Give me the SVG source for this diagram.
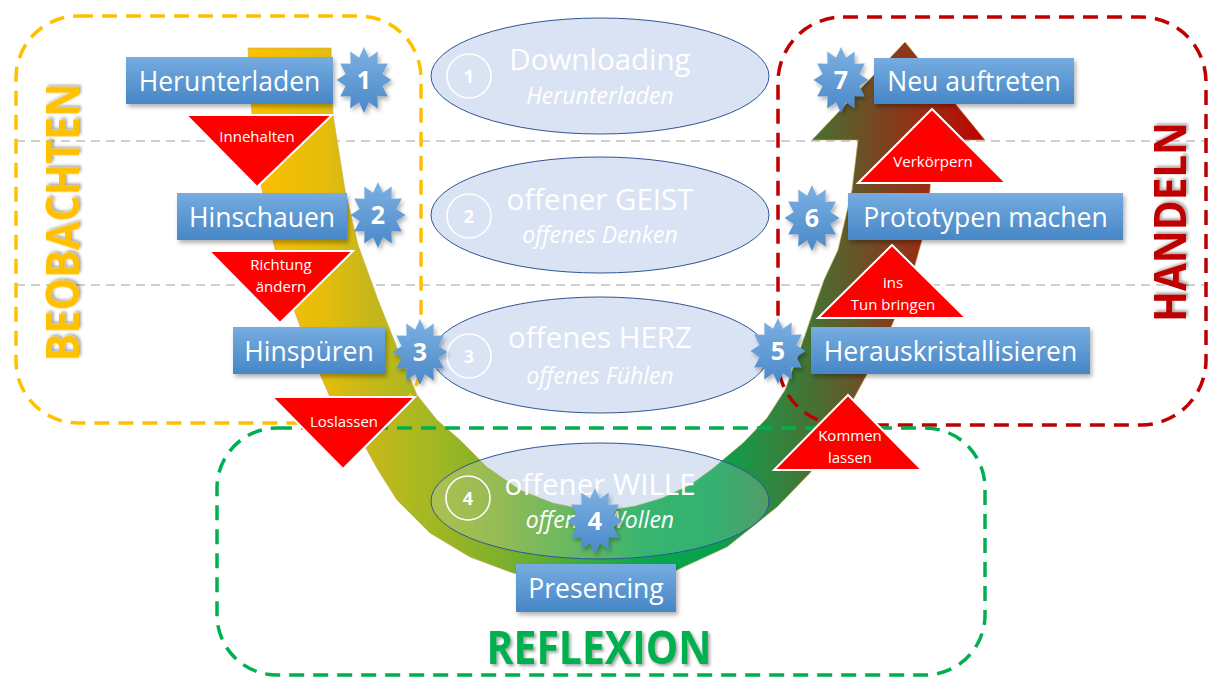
<svg xmlns="http://www.w3.org/2000/svg" xmlns:xlink="http://www.w3.org/1999/xlink" width="1208" height="677" viewBox="0 0 1208 677">
<style>
.grid{stroke:#cfcfcf;stroke-width:2;stroke-dasharray:9 6;fill:none}
.frame{fill:none;stroke-width:3.5;stroke-dasharray:15 9}
.ell{fill:#dae3f3;stroke:#2f5597;stroke-width:1}
.etitle{font-family:"Open Sans","Liberation Sans",sans-serif;font-size:29.5px;fill:#ffffff;text-anchor:middle}
.esub{font-family:"Open Sans","Liberation Sans",sans-serif;font-size:23px;font-style:italic;fill:#ffffff;text-anchor:middle}
.ecirc{fill:none;stroke:#ffffff;stroke-width:1.6}
.enum{font-family:"Open Sans","Liberation Sans",sans-serif;font-size:18px;font-weight:bold;fill:#ffffff;text-anchor:middle}
.tri{fill:#ff0000;stroke:#ffffff;stroke-width:2;stroke-linejoin:miter}
.tlab{font-family:"Open Sans","Liberation Sans",sans-serif;font-size:15px;fill:#ffffff;text-anchor:middle}
.box{fill:url(#boxGrad);filter:url(#sh)}
.blab{font-family:"Open Sans","Liberation Sans",sans-serif;font-size:26.5px;fill:#ffffff;text-anchor:middle}
.snum{font-family:"Open Sans","Liberation Sans",sans-serif;font-size:25px;font-weight:bold;fill:#ffffff;text-anchor:middle}
.big{font-family:"Open Sans","Liberation Sans",sans-serif;font-weight:bold;text-anchor:middle;filter:url(#tsh)}
</style>
<defs>
<linearGradient id="boxGrad" x1="0" y1="0" x2="0" y2="1">
<stop offset="0" stop-color="#76ace0"/>
<stop offset="1" stop-color="#4686c6"/>
</linearGradient>
<linearGradient id="starGrad" x1="0" y1="0" x2="0" y2="1">
<stop offset="0" stop-color="#7cb1e2"/>
<stop offset="1" stop-color="#4a88c9"/>
</linearGradient>
<linearGradient id="bandGrad" gradientUnits="userSpaceOnUse" x1="248" y1="0" x2="985" y2="0">
<stop offset="0" stop-color="#ffc000"/>
<stop offset="0.1" stop-color="#e6bd0a"/>
<stop offset="0.16" stop-color="#c8b818"/>
<stop offset="0.24" stop-color="#a6b822"/>
<stop offset="0.34" stop-color="#80b02a"/>
<stop offset="0.44" stop-color="#48ac3a"/>
<stop offset="0.54" stop-color="#0aa84c"/>
<stop offset="0.63" stop-color="#06a24e"/>
<stop offset="0.71" stop-color="#2e8840"/>
<stop offset="0.78" stop-color="#4e6a30"/>
<stop offset="0.86" stop-color="#7a4420"/>
<stop offset="0.93" stop-color="#a02810"/>
<stop offset="1" stop-color="#c00000"/>
</linearGradient>
<filter id="sh" x="-10%" y="-10%" width="130%" height="150%">
<feDropShadow dx="2" dy="3" stdDeviation="2" flood-color="#000" flood-opacity="0.3"/>
</filter>
<filter id="tsh" x="-10%" y="-10%" width="130%" height="130%">
<feDropShadow dx="2" dy="2" stdDeviation="1.5" flood-color="#000" flood-opacity="0.35"/>
</filter>
<polygon id="star" fill="url(#starGrad)" filter="url(#sh)" points="0,-33 4.92,-22.22 13.75,-28.58 13.44,-16.26 23.82,-16.5 18.35,-5.95 27.5,0 18.35,5.95 23.82,16.5 13.44,16.26 13.75,28.58 4.92,22.22 0,33 -4.92,22.22 -13.75,28.58 -13.44,16.26 -23.82,16.5 -18.35,5.95 -27.5,0 -18.35,-5.95 -23.82,-16.5 -13.44,-16.26 -13.75,-28.58 -4.92,-22.22"/>
</defs>

<rect width="1208" height="677" fill="#ffffff"/>

<g id="grid-lines">
<line class="grid" x1="16" y1="141" x2="1208" y2="141"/>
<line class="grid" x1="16" y1="285" x2="1208" y2="285"/>
</g>

<g id="ellipse-1">
<ellipse class="ell" cx="600" cy="76" rx="169" ry="58"/>
<circle class="ecirc" cx="469" cy="76" r="22"/>
<text class="enum" x="469" y="82.5">1</text>
<text class="etitle" x="600" y="70">Downloading</text>
<text class="esub" x="600" y="104">Herunterladen</text>
</g>
<g id="ellipse-2">
<ellipse class="ell" cx="600" cy="215" rx="169" ry="58"/>
<circle class="ecirc" cx="469" cy="216" r="22"/>
<text class="enum" x="469" y="222.5">2</text>
<text class="etitle" x="600" y="210">offener GEIST</text>
<text class="esub" x="600" y="243">offenes Denken</text>
</g>
<g id="ellipse-3">
<ellipse class="ell" cx="600" cy="355" rx="168" ry="58"/>
<circle class="ecirc" cx="469" cy="356" r="22"/>
<text class="enum" x="469" y="362.5">3</text>
<text class="etitle" x="600" y="348">offenes HERZ</text>
<text class="esub" x="600" y="384">offenes Fühlen</text>
</g>
<g id="ellipse-4-fill">
<ellipse cx="600" cy="501" rx="169" ry="58" fill="#dae3f3"/>
</g>

<g id="connectors">
<path id="u-arrow" fill="url(#bandGrad)" stroke="#c8a850" stroke-opacity="0.6" stroke-width="1" stroke-linejoin="round" d="M248,48 L331,48 L333,115 L345,190 L358,245 L378,300 L398,350 L417,395 L437,420 L460,440 L487,467 L520,490 L553,503 L587,510 L610,510 L635,506 L662,498 L690,485 L712,469 L743,443 L767,418 L785,390 L800,350 L817,300 L824,280 L838,250 L852,190 L858,140 L812,140 L905,42 L985,140 L933,140 L930,190 L922,240 L910,283 L892,325 L872,365 L853,400 L837,433 L810,473 L777,507 L727,547 L677,570 L636,580 L596,583 L556,581 L513,573 L470,557 L430,533 L397,500 L378,470 L367,450 L350,425 L330,397 L305,340 L287,290 L274,245 L261,185 L252,115 Z"/>
</g>

<g id="ellipse-4">
<ellipse cx="600" cy="501" rx="169" ry="58" fill="#dae3f3" fill-opacity="0.22" stroke="#2f5597" stroke-width="1"/>
<circle class="ecirc" cx="468" cy="498" r="22"/>
<text class="enum" x="468" y="504.5">4</text>
<text class="etitle" x="600" y="495">offener WILLE</text>
<text class="esub" x="600" y="528">offenes Wollen</text>
</g>

<g id="frame-beobachten">
<rect class="frame" x="16" y="16" width="405" height="407" rx="62" stroke="#ffc000"/>
</g>
<g id="frame-handeln">
<rect class="frame" x="778" y="17" width="428" height="408" rx="65" stroke="#c00000"/>
</g>
<g id="frame-reflexion">
<rect class="frame" x="217" y="428" width="768" height="247" rx="60" stroke="#00b050"/>
</g>

<g id="tri-innehalten">
<polygon class="tri" points="186,115 332,115 257,187"/>
<text class="tlab" x="257" y="142">Innehalten</text>
</g>
<g id="tri-richtung">
<polygon class="tri" points="209,251 353,251 280,323"/>
<text class="tlab" x="281" y="270">Richtung</text>
<text class="tlab" x="281" y="292">ändern</text>
</g>
<g id="tri-loslassen">
<polygon class="tri" points="272,397 415,397 343,469"/>
<text class="tlab" x="344" y="427">Loslassen</text>
</g>
<g id="tri-kommen">
<polygon class="tri" points="774,470 922,470 848,395"/>
<text class="tlab" x="850" y="441">Kommen</text>
<text class="tlab" x="850" y="463">lassen</text>
</g>
<g id="tri-tun">
<polygon class="tri" points="818,318 966,318 892,245"/>
<text class="tlab" x="893" y="288">ins</text>
<text class="tlab" x="893" y="310">Tun bringen</text>
</g>
<g id="tri-verkoerpern">
<polygon class="tri" points="858,183 1006,183 932,109"/>
<text class="tlab" x="933" y="167">Verkörpern</text>
</g>

<g id="box-herunterladen">
<rect class="box" x="126" y="57" width="207" height="47"/>
<text class="blab" x="229.5" y="91">Herunterladen</text>
</g>
<g id="box-hinschauen">
<rect class="box" x="177" y="193" width="170" height="47"/>
<text class="blab" x="262" y="227">Hinschauen</text>
</g>
<g id="box-hinspueren">
<rect class="box" x="233" y="327" width="152" height="47"/>
<text class="blab" x="309" y="361">Hinspüren</text>
</g>
<g id="box-presencing">
<rect class="box" x="516" y="564" width="160" height="48"/>
<text class="blab" x="596" y="598">Presencing</text>
</g>
<g id="box-herauskristallisieren">
<rect class="box" x="811" y="327" width="279" height="47"/>
<text class="blab" x="950.5" y="361">Herauskristallisieren</text>
</g>
<g id="box-prototypen">
<rect class="box" x="848" y="193" width="275" height="47"/>
<text class="blab" x="985.5" y="227">Prototypen machen</text>
</g>
<g id="box-neu">
<rect class="box" x="874" y="58" width="200" height="46"/>
<text class="blab" x="974" y="91">Neu auftreten</text>
</g>

<g id="star-1"><use xlink:href="#star" x="364" y="80"/><text class="snum" x="364" y="89">1</text></g>
<g id="star-2"><use xlink:href="#star" x="378" y="215"/><text class="snum" x="378" y="224">2</text></g>
<g id="star-3"><use xlink:href="#star" x="420" y="352"/><text class="snum" x="420" y="361">3</text></g>
<g id="star-4"><use xlink:href="#star" x="595" y="521"/><text class="snum" x="595" y="530">4</text></g>
<g id="star-5"><use xlink:href="#star" x="778" y="351"/><text class="snum" x="778" y="360">5</text></g>
<g id="star-6"><use xlink:href="#star" x="812" y="218"/><text class="snum" x="812" y="227">6</text></g>
<g id="star-7"><use xlink:href="#star" x="841" y="80"/><text class="snum" x="841" y="89">7</text></g>

<g id="label-beobachten">
<text class="big" transform="translate(79,222.5) rotate(-90)" font-size="47" fill="#ffc000" textLength="278" lengthAdjust="spacingAndGlyphs">BEOBACHTEN</text>
</g>
<g id="label-handeln">
<text class="big" transform="translate(1186,222) rotate(-90)" font-size="45" fill="#c00000" textLength="200" lengthAdjust="spacingAndGlyphs">HANDELN</text>
</g>
<g id="label-reflexion">
<text class="big" x="599" y="664" font-size="47" fill="#00b050" textLength="225" lengthAdjust="spacingAndGlyphs">REFLEXION</text>
</g>
</svg>
